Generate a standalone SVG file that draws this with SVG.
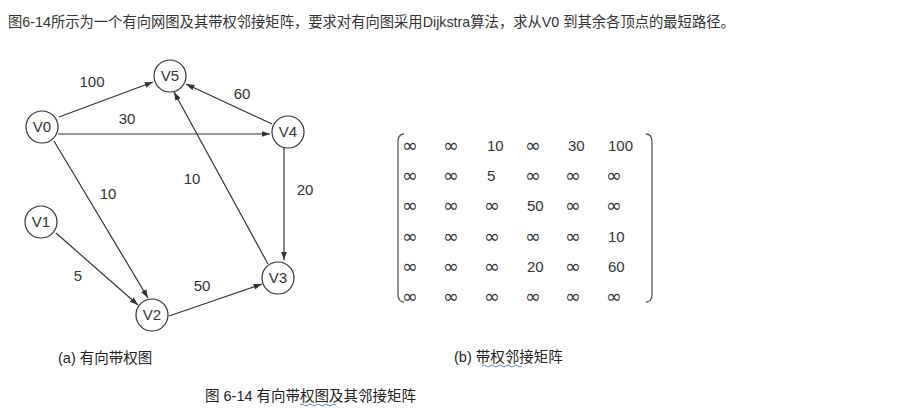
<svg xmlns="http://www.w3.org/2000/svg" width="905" height="411" viewBox="0 0 905 411">
<style>
text{font-family:"Liberation Sans","Noto Sans CJK SC",sans-serif;fill:#333}
.n circle{fill:#fff;stroke:#333;stroke-width:1.2}
.n text{font-size:15px;text-anchor:middle}
.e line{stroke:#333;stroke-width:1.2;marker-end:url(#a)}
.l{font-size:15px;text-anchor:middle}
.m text{font-size:15px}
.m text.i{font-family:"DejaVu Sans",sans-serif;font-size:19px}
.cap{font-size:14.5px;fill:#222}
</style>
<defs><marker id="a" viewBox="0 0 10 10" refX="10" refY="5" markerWidth="7" markerHeight="7" orient="auto"><path d="M0,1.5L10,5L0,8.5z" fill="#333"/></marker></defs>
<rect width="905" height="411" fill="#fff"/>
<text x="8" y="27" font-size="14.3">图6-14所示为一个有向网图及其带权邻接矩阵，要求对有向图采用Dijkstra算法，求从V0 到其余各顶点的最短路径。</text>
<g class="e">
<line x1="59" y1="117" x2="153" y2="82"/>
<line x1="58" y1="134" x2="270" y2="134"/>
<line x1="54" y1="141" x2="148" y2="298"/>
<line x1="56" y1="233" x2="138" y2="305"/>
<line x1="169" y1="316" x2="262" y2="284"/>
<line x1="284" y1="147" x2="284" y2="260"/>
<line x1="268" y1="264" x2="174" y2="92"/>
<line x1="272" y1="124" x2="186" y2="84"/>
</g>
<g id="V5" class="n"><circle cx="170" cy="76" r="16"/><text x="170" y="81">V5</text></g>
<g id="V0" class="n"><circle cx="42" cy="127" r="16"/><text x="42" y="132">V0</text></g>
<g id="V4" class="n"><circle cx="288" cy="132" r="16"/><text x="288" y="137">V4</text></g>
<g id="V1" class="n"><circle cx="41" cy="222" r="16"/><text x="41" y="227">V1</text></g>
<g id="V2" class="n"><circle cx="152" cy="315" r="16"/><text x="152" y="320">V2</text></g>
<g id="V3" class="n"><circle cx="278" cy="278" r="16"/><text x="278" y="283">V3</text></g>
<g>
<text class="l" x="92" y="87">100</text>
<text class="l" x="127" y="124">30</text>
<text class="l" x="242" y="99">60</text>
<text class="l" x="108" y="199">10</text>
<text class="l" x="192" y="184">10</text>
<text class="l" x="305" y="195">20</text>
<text class="l" x="78" y="281">5</text>
<text class="l" x="202" y="291">50</text>
</g>
<g class="m">
<path d="M404,134 Q398,134 398,142 L398,294 Q398,302 404,302" fill="none" stroke="#555" stroke-width="1.3"/>
<path d="M646,134 Q652,134 652,142 L652,294 Q652,302 646,302" fill="none" stroke="#555" stroke-width="1.3"/>
<text class="i" x="402" y="152">∞</text><text class="i" x="443" y="152">∞</text><text x="487" y="151">10</text><text class="i" x="525" y="152">∞</text><text x="568" y="151">30</text><text x="608" y="151">100</text>
<text class="i" x="402" y="182">∞</text><text class="i" x="443" y="182">∞</text><text x="487" y="181">5</text><text class="i" x="525" y="182">∞</text><text class="i" x="565" y="182">∞</text><text class="i" x="606" y="182">∞</text>
<text class="i" x="402" y="212">∞</text><text class="i" x="443" y="212">∞</text><text class="i" x="484" y="212">∞</text><text x="527" y="211">50</text><text class="i" x="565" y="212">∞</text><text class="i" x="606" y="212">∞</text>
<text class="i" x="402" y="243">∞</text><text class="i" x="443" y="243">∞</text><text class="i" x="484" y="243">∞</text><text class="i" x="525" y="243">∞</text><text class="i" x="565" y="243">∞</text><text x="608" y="242">10</text>
<text class="i" x="402" y="273">∞</text><text class="i" x="443" y="273">∞</text><text class="i" x="484" y="273">∞</text><text x="527" y="272">20</text><text class="i" x="565" y="273">∞</text><text x="608" y="272">60</text>
<text class="i" x="402" y="303">∞</text><text class="i" x="443" y="303">∞</text><text class="i" x="484" y="303">∞</text><text class="i" x="525" y="303">∞</text><text class="i" x="565" y="303">∞</text><text class="i" x="606" y="303">∞</text>
</g>
<text class="cap" x="58" y="363">(a) 有向带权图</text>
<text class="cap" x="454" y="362">(b) 带权邻接矩阵</text>
<text class="cap" x="205" y="401">图 6-14 有向带权图及其邻接矩阵</text>
<path d="M482,366 q2,-2 4,0 t4,0 t4,0 t4,0 t4,0 t4,0 t4,0 t4,0 t4,0 t4,0" fill="none" stroke="#36c" stroke-width="0.8"/>
<path d="M300,405 q2,-2 4,0 t4,0 t4,0 t4,0 t4,0 t4,0 t4,0 t4,0 t4,0" fill="none" stroke="#36c" stroke-width="0.8"/>
</svg>
